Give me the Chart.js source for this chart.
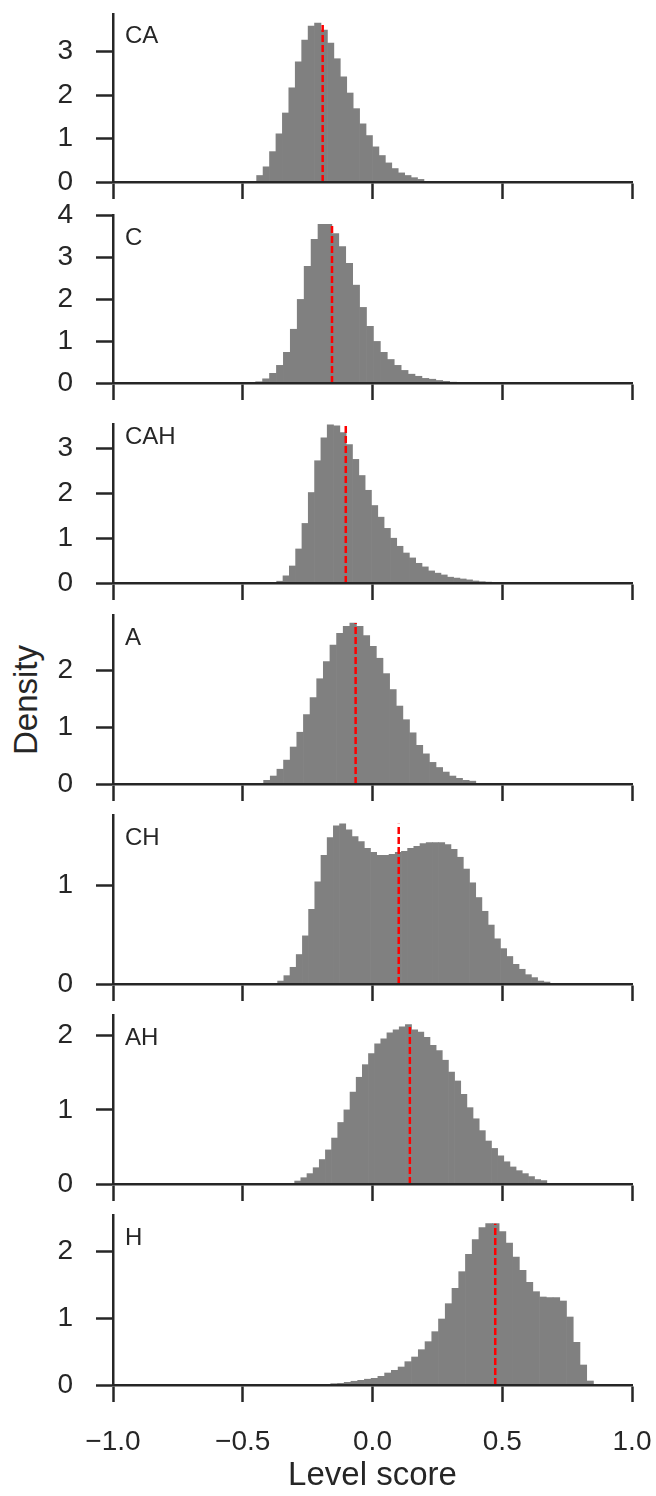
<!DOCTYPE html>
<html>
<head>
<meta charset="utf-8">
<title>Level score density</title>
<script src="https://cdn.jsdelivr.net/npm/chart.js@4.4.1/dist/chart.umd.min.js"></script>
<style>
  html, body { margin: 0; padding: 0; background: #fff; }
  #figure { position: relative; width: 656px; height: 1496px; overflow: hidden; }
  #figure canvas { position: absolute; left: 0; }
  #ylabel {
    position: absolute; width: 200px; height: 40px; line-height: 40px;
    left: -73px; top: 680px; text-align: center; transform: rotate(-90deg);
    font: 33px "Liberation Sans", Arial, sans-serif; color: #262626;
  }
</style>
</head>
<body>
<div id="figure"><div id="ylabel">Density</div></div>
<script>
// Data
const panelNames = ['CA', 'C', 'CAH', 'A', 'CH', 'AH', 'H'];
const xTicks = [-1, -0.5, 0, 0.5, 1];

// left edge of the first bin and bin width for each histogram
const binStart = [-0.4465, -0.4503, -0.3693, -0.4195, -0.3655, -0.2999, -0.161];
const binWidth = [0.0248, 0.0267, 0.02435, 0.02555, 0.02385, 0.0237, 0.02596];
const meanScore = [-0.192, -0.156, -0.103, -0.065, 0.101, 0.144, 0.473];
const yMax = [3.87, 4.0, 3.55, 2.97, 1.72, 2.28, 2.55];

const caDensity = [0.15, 0.35, 0.70, 1.11, 1.59, 2.17, 2.77, 3.27, 3.59, 3.66, 3.50, 3.20, 2.84,
  2.42, 2.05, 1.69, 1.34, 1.07, 0.81, 0.61, 0.44, 0.31, 0.21, 0.15, 0.10, 0.06];
const cDensity = [0.03, 0.10, 0.23, 0.42, 0.73, 1.28, 1.99, 2.78, 3.42, 3.78, 3.78, 3.56, 3.25,
  2.85, 2.33, 1.80, 1.35, 0.99, 0.73, 0.56, 0.42, 0.30, 0.21, 0.16, 0.11, 0.09, 0.06, 0.04, 0.02];
const cahDensity = [0.04, 0.16, 0.38, 0.76, 1.33, 2.02, 2.73, 3.24, 3.53, 3.51, 3.36, 3.09, 2.76,
  2.40, 2.07, 1.73, 1.47, 1.22, 1.00, 0.82, 0.67, 0.56, 0.44, 0.36, 0.27, 0.22, 0.18, 0.13,
  0.11, 0.09, 0.07, 0.045, 0.03, 0.02];
const aDensity = [0.065, 0.14, 0.26, 0.42, 0.65, 0.91, 1.22, 1.52, 1.85, 2.15, 2.44, 2.65, 2.77,
  2.83, 2.77, 2.61, 2.42, 2.21, 1.94, 1.66, 1.37, 1.13, 0.90, 0.68, 0.53, 0.38, 0.29, 0.21,
  0.14, 0.10, 0.065, 0.05];
const chDensity = [0.03, 0.085, 0.17, 0.30, 0.49, 0.76, 1.04, 1.31, 1.49, 1.61, 1.63, 1.57, 1.50,
  1.45, 1.38, 1.34, 1.31, 1.31, 1.32, 1.34, 1.35, 1.38, 1.40, 1.43, 1.44, 1.44, 1.44, 1.42,
  1.37, 1.29, 1.17, 1.03, 0.88, 0.74, 0.60, 0.46, 0.36, 0.28, 0.20, 0.15, 0.095, 0.065, 0.03, 0.02];
const ahDensity = [0.04, 0.085, 0.14, 0.22, 0.33, 0.46, 0.62, 0.83, 1.00, 1.24, 1.44, 1.61, 1.76,
  1.89, 1.96, 2.04, 2.08, 2.12, 2.15, 2.08, 2.05, 1.98, 1.87, 1.80, 1.67, 1.51, 1.39, 1.21,
  1.03, 0.88, 0.72, 0.58, 0.48, 0.38, 0.30, 0.23, 0.18, 0.14, 0.10, 0.06, 0.046];
const hDensity = [0.02, 0.025, 0.04, 0.056, 0.07, 0.087, 0.10, 0.13, 0.18, 0.22, 0.27, 0.35, 0.42,
  0.53, 0.65, 0.80, 0.99, 1.22, 1.45, 1.70, 1.96, 2.18, 2.36, 2.42, 2.42, 2.30, 2.13, 1.92,
  1.72, 1.54, 1.40, 1.32, 1.31, 1.31, 1.26, 1.02, 0.64, 0.30, 0.06];

const densities = [caDensity, cDensity, cahDensity, aDensity, chDensity, ahDensity, hDensity];

// Layout (page pixels)
const plotTop = [14, 215, 424, 615, 815, 1015, 1215];
const plotBottom = [182, 383, 583, 784, 984, 1184, 1385];
const labelOffset = [29, 30, 20, 30, 30, 30, 30];
const PAD_TOP = 18, XAXIS_H = 20, YAXIS_W = 113, PAD_RIGHT = 24, FIG_W = 656, FIG_H = 1496;

const ink = '#262626';
Chart.defaults.font.family = '"Liberation Sans", Arial, sans-serif';
Chart.defaults.color = ink;

const fmt = v => (v < 0 ? '\u2212' : '') + Math.abs(v).toFixed(1);

// scale sizes are fixed so every panel lines up with the others
const noScalePadding = s => {
    s.paddingLeft = 0;
    s.paddingRight = 0;
    s.paddingTop = 0;
    s.paddingBottom = 0;
};

// panel name in the upper left corner of each plot
const panelLabel = {
    id: 'panelLabel',
    afterDraw(chart, args, opts) {
        const { ctx, chartArea } = chart;
        ctx.save();
        ctx.font = '24px "Liberation Sans", Arial, sans-serif';
        ctx.fillStyle = ink;
        ctx.textBaseline = 'alphabetic';
        ctx.fillText(opts.text, chartArea.left + 12, chartArea.top + opts.offset);
        ctx.restore();
    }
};

const figure = document.getElementById('figure');

panelNames.forEach((name, i) => {
    const last = i === panelNames.length - 1;
    const top = plotTop[i] - PAD_TOP;
    const height = last ? FIG_H - top : plotBottom[i] - top + XAXIS_H;

    const canvas = document.createElement('canvas');
    canvas.width = FIG_W;
    canvas.height = height;
    canvas.style.top = top + 'px';
    figure.appendChild(canvas);

    const density = densities[i];
    const bars = density.map((d, k) => ({ x: binStart[i] + (k + 0.5) * binWidth[i], y: d }));
    const peak = Math.max(...density);

    const axisGrid = { offset: false, drawOnChartArea: false, tickLength: 17, tickWidth: 2.5, tickColor: ink };
    const axisBorder = { display: true, color: ink, width: 2.5, z: 1 };

    new Chart(canvas, {
        type: 'bar',
        data: {
            datasets: [
                {
                    // mean score
                    type: 'line',
                    data: [{ x: meanScore[i], y: 0 }, { x: meanScore[i], y: peak }],
                    borderColor: '#ff0000',
                    borderWidth: 2.5,
                    borderDash: [7, 3],
                    pointRadius: 0,
                    fill: false
                },
                {
                    data: bars,
                    backgroundColor: '#808080',
                    borderWidth: 0,
                    barPercentage: 1,
                    categoryPercentage: 1
                }
            ]
        },
        options: {
            responsive: false,
            animation: false,
            events: [],
            layout: { padding: { top: PAD_TOP, right: PAD_RIGHT, left: 0, bottom: 0 } },
            plugins: {
                legend: { display: false },
                tooltip: { enabled: false },
                panelLabel: { text: name, offset: labelOffset[i] }
            },
            scales: {
                x: {
                    type: 'linear',
                    min: -1,
                    max: 1,
                    offset: false,
                    afterBuildTicks: s => { s.ticks = xTicks.map(v => ({ value: v })); },
                    afterFit: s => {
                        s.height = last ? FIG_H - plotBottom[i] : XAXIS_H;
                        noScalePadding(s);
                    },
                    grid: axisGrid,
                    border: axisBorder,
                    ticks: {
                        display: last,
                        padding: 23,
                        maxRotation: 0,
                        autoSkip: false,
                        font: { size: 28 },
                        color: ink,
                        callback: v => fmt(v)
                    },
                    title: {
                        display: last,
                        text: 'Level score',
                        font: { size: 33 },
                        color: ink,
                        padding: { top: 0, bottom: 0 }
                    }
                },
                y: {
                    min: 0,
                    max: yMax[i],
                    afterFit: s => {
                        s.width = YAXIS_W;
                        noScalePadding(s);
                    },
                    grid: axisGrid,
                    border: axisBorder,
                    ticks: {
                        stepSize: 1,
                        includeBounds: false,
                        padding: 23,
                        font: { size: 28 },
                        color: ink
                    }
                }
            }
        },
        plugins: [panelLabel]
    });
});
</script>
</body>
</html>
